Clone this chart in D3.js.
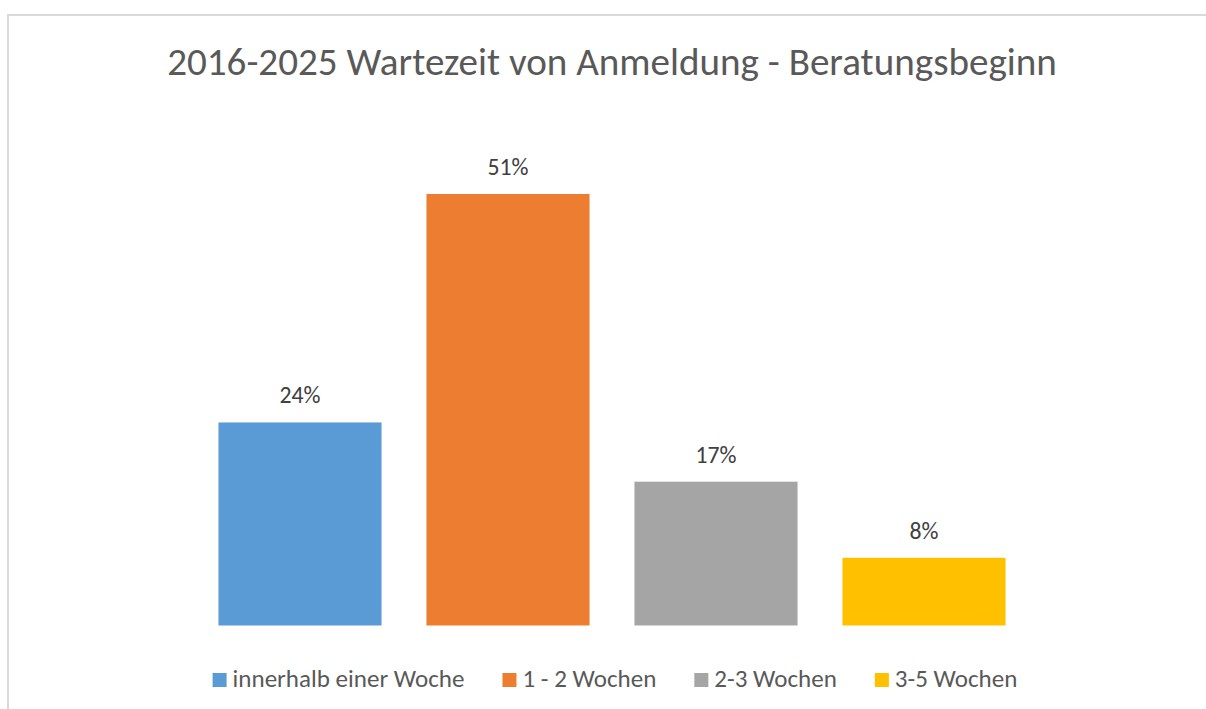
<!DOCTYPE html>
<html>
<head>
<meta charset="utf-8">
<script src="https://cdn.jsdelivr.net/npm/d3@7"></script>
<style>
  html, body { margin: 0; padding: 0; background: #fff; }
  svg { display: block; }
</style>
</head>
<body>
<div id="chart"></div>
<script>
const categories = ["innerhalb einer Woche", "1 - 2 Wochen", "2-3 Wochen", "3-5 Wochen"];
const values = [24, 51, 17, 8];
const barColors = ["#5B9BD5", "#ED7D31", "#A5A5A5", "#FFC000"];
const titleText = "2016-2025 Wartezeit von Anmeldung - Beratungsbeginn";

const width = 1206, height = 709;
const fontFamily = "Carlito, Calibri, Lato, sans-serif";
const plot = { left: 196, right: 1028, top: 194, bottom: 625.5 };

const svg = d3.select("#chart").append("svg")
	.attr("width", width)
	.attr("height", height);

// chart frame
svg.append("rect")
	.attr("x", 8).attr("y", 15)
	.attr("width", 1220).attr("height", 720)
	.attr("fill", "#fff")
	.attr("stroke", "#D9D9D9")
	.attr("stroke-width", 2);

// fit a text node to a target width (Calibri is narrower than the fallbacks)
function fitWidth(sel, target) {
	const w = sel.node().getComputedTextLength();
	const fs = parseFloat(sel.style("font-size"));
	sel.style("font-size", (fs * target / w) + "px");
}

const title = svg.append("text")
	.attr("x", 612)
	.attr("y", 75)
	.attr("text-anchor", "middle")
	.style("font-family", fontFamily)
	.style("font-size", "36px")
	.style("fill", "#595959")
	.text(titleText);
fitWidth(title, 890);

const x = d3.scaleBand()
	.domain(categories)
	.range([plot.left, plot.right])
	.paddingInner(0.216)
	.paddingOuter(0.108);

const y = d3.scaleLinear()
	.domain([0, 51])
	.range([plot.bottom, plot.top]);

svg.append("g")
	.selectAll("rect")
	.data(values)
	.join("rect")
	.attr("x", (d, i) => x(categories[i]))
	.attr("y", d => y(d))
	.attr("width", x.bandwidth())
	.attr("height", d => y(0) - y(d))
	.attr("fill", (d, i) => barColors[i]);

// measure a reference label size for the value labels
const probe = svg.append("text")
	.style("font-family", fontFamily)
	.style("font-size", "20px")
	.text("51%");
fitWidth(probe, 41);
const labelSize = probe.style("font-size");
probe.remove();

svg.append("g")
	.selectAll("text")
	.data(values)
	.join("text")
	.attr("x", (d, i) => x(categories[i]) + x.bandwidth() / 2)
	.attr("y", d => y(d) - 19)
	.attr("text-anchor", "middle")
	.style("font-family", fontFamily)
	.style("font-size", labelSize)
	.style("fill", "#404040")
	.text(d => d + "%");

// legend
const legend = svg.append("g");
const items = legend.selectAll("g")
	.data(categories)
	.join("g");

items.append("rect")
	.attr("width", 14).attr("height", 14)
	.attr("y", -14)
	.attr("fill", (d, i) => barColors[i]);

const legendText = items.append("text")
	.attr("x", 20)
	.attr("y", 0)
	.style("font-family", fontFamily)
	.style("font-size", "20px")
	.style("fill", "#595959")
	.text(d => d);

fitWidth(d3.select(legendText.nodes()[0]), 232);
const legendSize = d3.select(legendText.nodes()[0]).style("font-size");
legendText.style("font-size", legendSize);

let cx = 0;
const offsets = [];
legendText.each(function() {
	offsets.push(cx);
	cx += 20 + this.getComputedTextLength() + 38;
});
const totalW = cx - 38;
items.attr("transform", (d, i) => `translate(${offsets[i]},0)`);
legend.attr("transform", `translate(${615 - totalW / 2},687)`);
</script>
</body>
</html>
